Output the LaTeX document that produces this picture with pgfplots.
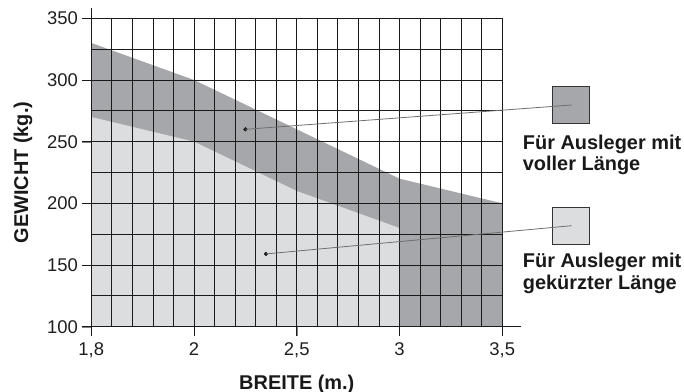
\documentclass[border=0pt]{standalone}
\usepackage{pgfplots}
\pgfplotsset{compat=1.18}
\usepackage{fontspec}
\setmainfont{Liberation Sans}
\definecolor{darkfill}{HTML}{A6A7AA}
\definecolor{lightfill}{HTML}{DCDDDF}
\definecolor{gridc}{HTML}{1A1A1A}
\definecolor{leader}{HTML}{6E6E6E}
\begin{document}
\begin{tikzpicture}
\useasboundingbox (0,0) rectangle (684bp,392bp);
\begin{axis}[
  at={(91.3bp,65.3bp)}, anchor=south west,
  scale only axis, width=411bp, height=308.4bp,
  xmin=0, xmax=4, ymin=100, ymax=350,
  xtick={0,1,2,3,4},
  xticklabels={{1,8},{2},{2,5},{3},{3,5}},
  ytick={100,150,200,250,300,350},
  minor x tick num=4,
  minor y tick num=1,
  grid=both,
  grid style={gridc, line width=0.9bp},
  major grid style={gridc, line width=0.9bp},
  minor grid style={gridc, line width=0.9bp},
  axis x line=bottom, axis y line=left,
  xtick pos=bottom, ytick pos=left,
  x axis line style={-, gridc, line width=0.9bp, shorten >=-18.4bp},
  y axis line style={-, gridc, line width=0.9bp, shorten >=-10bp},
  xtick align=outside, ytick align=outside,
  major tick length=9bp, minor tick length=0pt,
  axis on top,
  /pgf/number format/assume math mode=true,
  ticklabel style={font=\fontsize{18.5}{18.5}\selectfont, text=black!88},
  xticklabel style={yshift=-3bp},
  yticklabel style={xshift=-1bp},
  clip=false,
]
\addplot[fill=darkfill, draw=none] coordinates {(0,330) (1,300) (3,220) (4,200)} \closedcycle;
\addplot[fill=lightfill, draw=none] coordinates {(0,270) (1,250) (2,210) (3,180)} \closedcycle;
\addplot[only marks, mark=*, mark size=1.9bp, color=gridc] coordinates {(1.5,260) (1.7,159)};
\coordinate (a1) at (axis cs:1.5,260);
\coordinate (a2) at (axis cs:1.7,159);
\coordinate (tx0) at (axis cs:0,100);
\coordinate (tx1) at (axis cs:1,100);
\coordinate (tx2) at (axis cs:2,100);
\coordinate (tx3) at (axis cs:3,100);
\coordinate (tx4) at (axis cs:4,100);
\coordinate (ty1) at (axis cs:0,150);
\coordinate (ty2) at (axis cs:0,200);
\coordinate (ty3) at (axis cs:0,250);
\coordinate (ty4) at (axis cs:0,300);
\coordinate (ty5) at (axis cs:0,350);
\end{axis}
\foreach \c in {tx0,tx1,tx2,tx3,tx4} \draw[gridc, line width=0.9bp] (\c) -- ++(0,-9bp);
\foreach \c in {tx0,ty1,ty2,ty3,ty4,ty5} \draw[gridc, line width=0.9bp] (\c) -- ++(-9bp,0);
% legend boxes
\draw[fill=darkfill, draw=black!80, line width=0.6bp] (552.3bp,268.7bp) rectangle (589.3bp,305.3bp);
\draw[fill=lightfill, draw=black!80, line width=0.6bp] (552.3bp,148bp) rectangle (589.3bp,184.7bp);
\draw[leader, line width=0.8bp] (a1) -- (571.7bp,287bp);
\draw[leader, line width=0.8bp] (a2) -- (571.7bp,166.3bp);
\begin{scope}[every node/.style={font=\bfseries\fontsize{20}{21}\selectfont, text=black!90, inner sep=0pt}]
\node[anchor=base west] at (522.7bp,242.7bp) {Für Ausleger mit};
\node[anchor=base west] at (522.7bp,221.3bp) {voller Länge};
\node[anchor=base west] at (522.7bp,124bp) {Für Ausleger mit};
\node[anchor=base west] at (522.7bp,102.5bp) {gekürzter Länge};
\node[anchor=base] at (296.8bp,3bp) {BREITE (m.)};
\node[anchor=base, rotate=90] at (28bp,219.5bp) {GEWICHT (kg.)};
\end{scope}
\end{tikzpicture}
\end{document}
